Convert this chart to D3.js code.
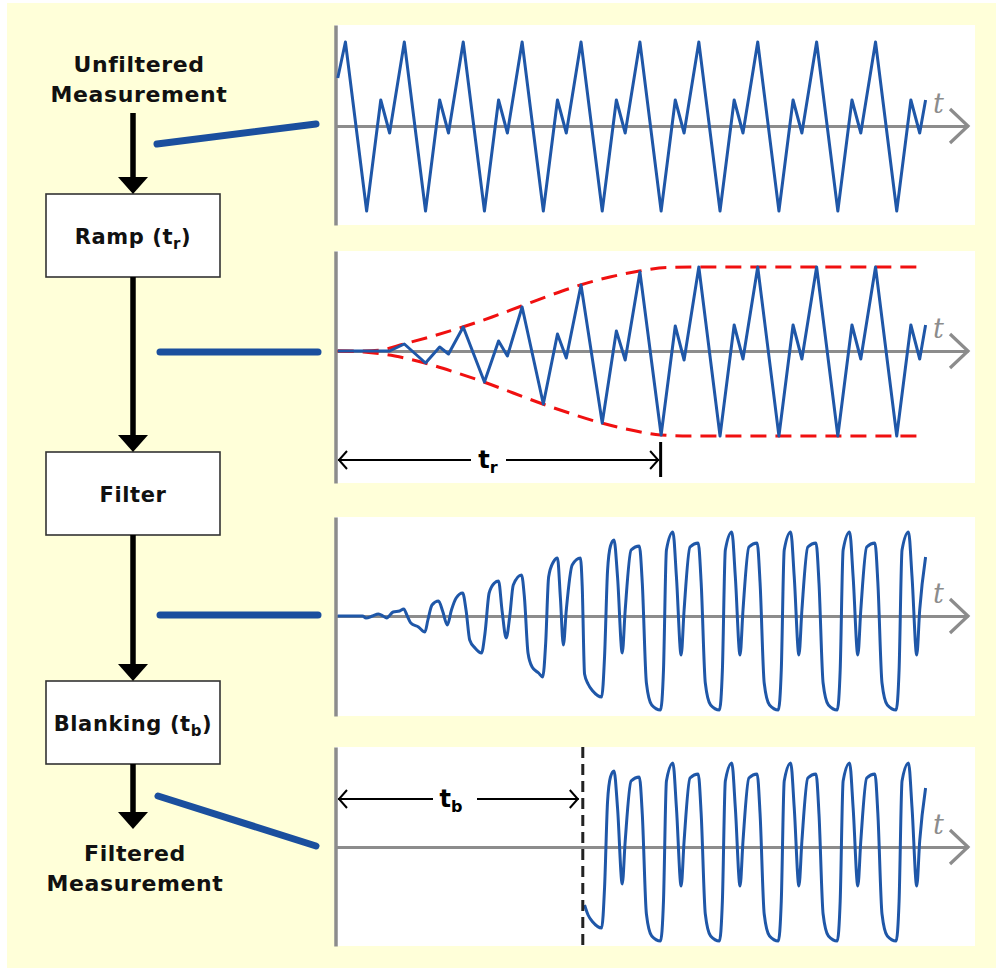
<!DOCTYPE html>
<html><head><meta charset="utf-8">
<script src="https://cdn.jsdelivr.net/npm/d3@7"></script>
<style>body{margin:0;background:#fff}svg{display:block}</style>
</head><body><svg id="c" width="996" height="968"></svg>
<script>
// ---------------- DATA ----------------
const topLabel = ["Unfiltered", "Measurement"];
const bottomLabel = ["Filtered", "Measurement"];
const stageNames = ["Ramp (t", "Filter", "Blanking (t"];
const stageSubs = ["r", "", "b"];
const axisLabel = "t";
const rampTime = 5.52;      // t_r
const blankTime = 4.19;     // t_b

// unfiltered measurement (time in periods, value)
const unfT = [0.03,
  0.16,0.52,0.76,0.91, 1.16,1.52,1.76,1.91, 2.16,2.52,2.76,2.91, 3.16,3.52,3.76,3.91,
  4.16,4.52,4.76,4.91, 5.16,5.52,5.76,5.91, 6.16,6.52,6.76,6.91, 7.16,7.52,7.76,7.91,
  8.16,8.52,8.76,8.91, 9.16,9.52,9.76,9.91, 10.01];
const unfV = [48,
  84,-85,26,-7, 84,-85,26,-7, 84,-85,26,-7, 84,-85,26,-7,
  84,-85,26,-7, 84,-85,26,-7, 84,-85,26,-7, 84,-85,26,-7,
  84,-85,26,-7, 84,-85,26,-7, 26];
// ramped measurement
const rampV = [0,
  0,0,0,0, 7,-12,4,-3, 24,-31,10,-5, 44,-53,17,-7,
  66,-72,20,-9, 79,-84,25,-9, 84,-85,26,-8, 84,-85,26,-8,
  84,-85,26,-8, 84,-85,26,-8, 26];
// ramp envelope (dashed)
const envTopT = [0.03,0.47,0.76,1.15,1.65,2.15,2.65,3.15,3.65,4.15,4.65,5.15,5.61,6.1,10.0];
const envTopV = [0,0,1,7,15,24,34,45,56,66,74,80,83.5,84,84];
const envBotT = [0.03,0.47,1.0,1.51,2.01,2.51,3.01,3.51,4.01,4.51,5.01,5.51,6.0,10.0];
const envBotV = [0,-1,-5,-12,-21,-31,-42,-53,-63,-72,-79,-84,-85,-85];
// filtered measurement
const filtT = [0.03,0.45,0.51,0.62,0.72,0.80,0.86,0.97,1.08,1.15,1.21,1.27,1.40,1.51,1.56,1.63,1.74,1.81,1.89,1.96,
  2.04,2.15,2.21,2.27,2.36,2.47,2.53,2.60,2.69,2.76,2.82,2.89,2.95,3.01,3.15,3.20,3.26,3.33,3.44,3.51,
  3.56,3.61,3.69,3.76,3.81,3.86,3.91,4.01,4.15,4.18,4.22,4.28,4.36,4.51,4.56,4.61,4.66,4.72,4.78,4.86,
  4.91,5.01,5.15,5.20,5.27,5.36,5.51,5.56,5.61,5.72,5.78,5.86,5.91,6.01,6.15,
  6.20,6.27,6.36,6.51,6.56,6.61,6.72,6.78,6.86,6.91,7.01,7.15,
  7.20,7.27,7.36,7.51,7.56,7.61,7.72,7.78,7.86,7.91,8.01,8.15,
  8.20,8.27,8.36,8.51,8.56,8.61,8.72,8.78,8.86,8.91,9.01,9.15,
  9.20,9.27,9.36,9.51,9.56,9.61,9.72,9.78,9.86,9.91,10.01];
const filtV = [0,0,-2,0,2,0,-2,4,5,7,0,-7,-11,-16,-4,11,15,5,-9,6,
  18,23,5,-24,-32,-37,-17,23,33,35,5,-22,0,31,41,18,-37,-51,-57,-61,
  -27,39,54,58,18,-29,6,51,58,30,-58,-68,-75,-81,-40,45,70,76,39,-37,
  6,66,70,33,-67,-89,-94,-54,66,84,39,-39,6,69,73,
  33,-67,-89,-94,-54,66,84,39,-39,6,69,73,
  33,-67,-89,-94,-54,66,84,39,-39,6,69,73,
  33,-67,-89,-94,-54,66,84,39,-39,6,69,73,
  33,-67,-89,-94,-54,66,84,39,-39,6,59];

// ---------------- DRAW ----------------
const svg = d3.select("#c");
const FONT = "'DejaVu Sans', Verdana, sans-serif";
const BLUE = "#1f57a8";
svg.append("rect").attr("x",7).attr("y",3).attr("width",989).attr("height",965).attr("fill","#FFFFD9");

const x = d3.scaleLinear().domain([0, 10.73]).range([336, 968]);
const panels = [
  {top:25,bottom:225,axis:126},
  {top:251,bottom:483,axis:351},
  {top:517,bottom:716,axis:616},
  {top:747,bottom:946,axis:847}
];
const zip = (T,V) => T.map((t,i)=>({t, v:V[i]}));
const series = [
  {pts: zip(unfT, unfV), curve: d3.curveLinear},
  {pts: zip(unfT, rampV), curve: d3.curveLinear},
  {pts: zip(filtT, filtV), curve: d3.curveMonotoneX},
  {pts: zip(filtT, filtV).filter(d => d.t >= blankTime), curve: d3.curveMonotoneX}
];

panels.forEach((p, i) => {
  const g = svg.append("g");
  p.y = d3.scaleLinear().domain([-(p.bottom - p.axis), p.axis - p.top]).range([p.bottom, p.top]);
  g.append("rect").attr("x",335).attr("y",p.top).attr("width",640).attr("height",p.bottom-p.top).attr("fill","#fff");
  const ya = g.append("g").attr("transform","translate(335.5,0)")
    .call(d3.axisLeft(p.y).tickValues([]).tickSizeOuter(0));
  ya.select(".domain").attr("stroke","#8c8c8c").attr("stroke-width",3.5);
  const xa = g.append("g").attr("transform",`translate(0,${p.y(0)})`)
    .call(d3.axisBottom(x).tickValues([]).tickSizeOuter(0));
  xa.select(".domain").attr("stroke","#8c8c8c").attr("stroke-width",3);
  const xe = x(10.73), ay = p.y(0);
  g.append("path").attr("d",`M${xe-18},${ay-17}L${xe},${ay}L${xe-18},${ay+17}`)
    .attr("fill","none").attr("stroke","#8c8c8c").attr("stroke-width",3.2);
  g.append("text").attr("x",933).attr("y",ay-13).attr("font-family","'DejaVu Serif', serif")
    .attr("font-style","italic").attr("font-size",27).attr("fill","#8c8c8c").text(axisLabel);
  p.g = g;
});

// ramp envelope
const p2 = panels[1];
const envLine = d3.line().x(d=>x(d.t)).y(d=>p2.y(d.v)).curve(d3.curveMonotoneX);
[zip(envTopT, envTopV), zip(envBotT, envBotV)].forEach(e => {
  p2.g.append("path").attr("d", envLine(e)).attr("fill","none")
    .attr("stroke","#f01010").attr("stroke-width",3).attr("stroke-dasharray","16,9");
});

// waveforms
series.forEach((s, i) => {
  const p = panels[i];
  const line = d3.line().x(d=>x(d.t)).y(d=>p.y(d.v)).curve(s.curve);
  p.g.append("path").attr("d", line(s.pts)).attr("fill","none")
    .attr("stroke",BLUE).attr("stroke-width",3).attr("stroke-linejoin","round");
});

// blanking dashed line
const p4 = panels[3];
p4.g.append("line").attr("x1",x(blankTime)).attr("x2",x(blankTime)).attr("y1",p4.top).attr("y2",p4.bottom)
  .attr("stroke","#222").attr("stroke-width",3).attr("stroke-dasharray","11,6");

// dimension arrows
function dimArrow(g, yy, x0, x1, gap, tc, sub, bar) {
  g.append("line").attr("x1",x0).attr("x2",gap[0]).attr("y1",yy).attr("y2",yy).attr("stroke","#000").attr("stroke-width",2);
  g.append("line").attr("x1",gap[1]).attr("x2",x1).attr("y1",yy).attr("y2",yy).attr("stroke","#000").attr("stroke-width",2);
  g.append("path").attr("d",`M${x0+9},${yy-9}L${x0+1},${yy}L${x0+9},${yy+9}`).attr("fill","none").attr("stroke","#000").attr("stroke-width",2);
  g.append("path").attr("d",`M${x1-9},${yy-9}L${x1-1},${yy}L${x1-9},${yy+9}`).attr("fill","none").attr("stroke","#000").attr("stroke-width",2);
  if (bar) g.append("line").attr("x1",x1+1.5).attr("x2",x1+1.5).attr("y1",yy-18).attr("y2",yy+17).attr("stroke","#000").attr("stroke-width",3);
  const t = g.append("text").attr("x",tc).attr("y",yy+8).attr("text-anchor","middle")
    .attr("font-family",FONT).attr("font-weight","bold").attr("font-size",24).attr("fill","#000");
  t.append("tspan").text("t");
  t.append("tspan").attr("dy",5).attr("font-size",16).text(sub);
}
dimArrow(p2.g, 460, 338, x(rampTime)-2, [471,506], 488, "r", true);
dimArrow(p4.g, 799, 338, x(blankTime)-4, [433,477], 451, "b", false);

// ---------------- FLOW (left) ----------------
const cx = 133;
const flow = svg.append("g");
function label(lines, y0, xc) {
  lines.forEach((s, i) => {
    flow.append("text").attr("x",xc).attr("y",y0 + i*30).attr("text-anchor","middle")
      .attr("font-family",FONT).attr("font-weight","bold").attr("font-size",22)
      .attr("letter-spacing",0.6).attr("fill","#111").text(s);
  });
}
label(topLabel, 72, 139);
label(bottomLabel, 861, 135);

const boxTops = [194, 452, 681];
boxTops.forEach((top, i) => {
  flow.append("rect").attr("x",46).attr("y",top).attr("width",174).attr("height",83)
    .attr("fill","#fff").attr("stroke","#333").attr("stroke-width",1.6);
  const t = flow.append("text").attr("x",cx).attr("y",top+50).attr("text-anchor","middle")
    .attr("font-family",FONT).attr("font-weight","bold").attr("font-size",21)
    .attr("letter-spacing",0.6).attr("fill","#111");
  t.append("tspan").text(stageNames[i]);
  if (stageSubs[i]) {
    t.append("tspan").attr("dy",5).attr("font-size",15).text(stageSubs[i]);
    t.append("tspan").attr("dy",-5).text(")");
  }
});

const arrows = [[113,194],[277,452],[535,681],[764,829]];
arrows.forEach(([a,b]) => {
  flow.append("line").attr("x1",cx).attr("x2",cx).attr("y1",a).attr("y2",b-14).attr("stroke","#000").attr("stroke-width",5.5);
  flow.append("path").attr("d",`M${cx-15},${b-17}L${cx+15},${b-17}L${cx},${b}Z`).attr("fill","#000");
});

// connectors
const conns = [[157,144,316,124],[160,352,318,352],[160,615,318,615],[158,796,316,846]];
conns.forEach(c => {
  flow.append("line").attr("x1",c[0]).attr("y1",c[1]).attr("x2",c[2]).attr("y2",c[3])
    .attr("stroke","#1b4f9e").attr("stroke-width",7).attr("stroke-linecap","round");
});
</script>
</body></html>
